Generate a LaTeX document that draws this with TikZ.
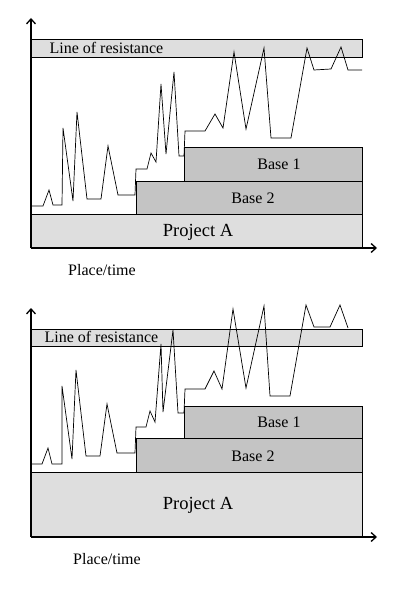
\documentclass[tikz,border=0pt]{standalone}
\usepackage{fontspec}
\usetikzlibrary{arrows.meta}
\setmainfont{Liberation Serif}
\definecolor{lightgray1}{HTML}{DEDEDE}
\definecolor{basegray}{HTML}{C4C4C4}
\tikzset{
  lightbox/.style={draw=black, fill=lightgray1, line width=0.9pt},
  basebox/.style={draw=black, fill=basegray, line width=0.9pt},
  axis/.style={-{Straight Barb[length=5pt,width=9pt]}, line width=1.3pt},
  path line/.style={line width=0.7pt, line join=miter},
  label/.style={font=\fontsize{16}{17}\selectfont},
  big label/.style={font=\fontsize{18.5}{19}\selectfont}
}
\begin{document}
\begin{tikzpicture}[x=1pt,y=-1pt]
  \useasboundingbox (0,0) rectangle (399,593);

  % ---------- upper diagram ----------
  % Draw the boxes
  \draw[lightbox] (31,39) rectangle (362,57);
  \node[label, anchor=west] (resA) at (46,48) {Line of resistance};
  \draw[lightbox] (31,214) rectangle (362,248);
  \node[big label] (projA) at (198,232) {Project A};
  \draw[basebox] (136,181) rectangle (362,214);
  \node[label] (baseTwoA) at (253,198) {Base 2};
  \draw[basebox] (184,147) rectangle (362,181);
  \node[label] (baseOneA) at (279,164) {Base 1};

  % Plot the line
  \draw[path line] (31,206) -- (43,206) -- (49,190) -- (53,205) -- (62,205)
    -- (63,128) -- (73,201) -- (77,112) -- (87,199) -- (101,199) -- (108,146)
    -- (118,195) -- (135,195) -- (136,169) -- (147,169) -- (151,153) -- (156,162)
    -- (161,84) -- (166,154) -- (174,72) -- (179,156) -- (184,156) -- (185,131)
    -- (205,131) -- (215,114) -- (223,128) -- (234,52) -- (246,129) -- (264,48)
    -- (271,138) -- (291,138) -- (307,48) -- (314,70) -- (331,69) -- (341,47)
    -- (348,70) -- (362,70);

  % Draw the axes
  \coordinate (originA) at (31,248);
  \draw[axis] (originA) -- (31,18);
  \draw[axis] (originA) -- (377,248);
  \node[label] (placeA) at (102,270) {Place/time};

  % ---------- lower diagram ----------
  % Draw the boxes
  \draw[lightbox] (31,329) rectangle (362,346);
  \node[label, anchor=west] (resB) at (41,337) {Line of resistance};
  \draw[lightbox] (31,472) rectangle (362,537);
  \node[big label] (projB) at (198,505) {Project A};
  \draw[basebox] (136,438) rectangle (362,472);
  \node[label] (baseTwoB) at (253,456) {Base 2};
  \draw[basebox] (184,406) rectangle (362,438);
  \node[label] (baseOneB) at (279,422) {Base 1};

  % Plot the line
  \draw[path line] (31,464) -- (42,464) -- (48,448) -- (52,464) -- (62,464)
    -- (62,386) -- (72,459) -- (76,370) -- (86,456) -- (100,456) -- (107,404)
    -- (117,453) -- (135,453) -- (136,427) -- (146,427) -- (150,411) -- (155,422)
    -- (161,344) -- (163,412) -- (173,330) -- (178,413) -- (184,413) -- (185,389)
    -- (205,389) -- (214,371) -- (222,389) -- (233,309) -- (246,388) -- (264,306)
    -- (270,396) -- (290,396) -- (306,305) -- (314,327) -- (330,327) -- (340,305)
    -- (348,328);

  % Draw the axes
  \coordinate (originB) at (31,537);
  \draw[axis] (originB) -- (31,308);
  \draw[axis] (originB) -- (377,537);
  \node[label] (placeB) at (107,559) {Place/time};
\end{tikzpicture}
\end{document}
